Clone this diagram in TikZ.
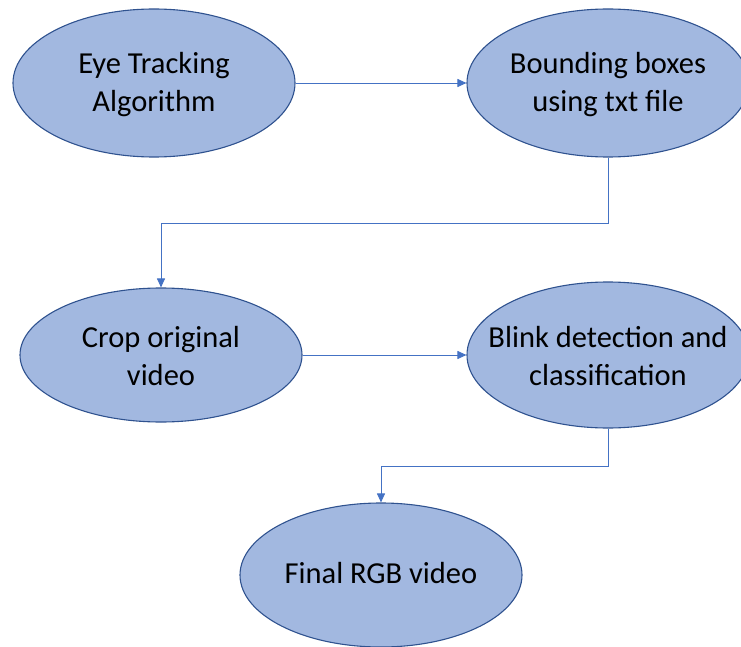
\documentclass[tikz,border=0pt]{standalone}
\usepackage{fontspec}
\setmainfont{Carlito}
\usetikzlibrary{shapes.geometric,arrows.meta}
\definecolor{stepfill}{HTML}{A2B8E0}
\definecolor{stepline}{HTML}{2F528F}
\definecolor{flowline}{HTML}{4472C4}
\tikzset{
  stepoval/.style={ellipse, fill=stepfill, draw=stepline, line width=1.1pt, inner sep=0pt},
  steptext/.style={align=center, font=\fontsize{30.5}{38}\selectfont, text=black, inner sep=0pt},
  flow/.style={draw=flowline, line width=0.9pt, -{Triangle[length=9pt,width=8pt]}}
}
\begin{document}
\begin{tikzpicture}[x=1pt,y=-1pt]
\useasboundingbox (0,0) rectangle (741,647);
\begin{scope}
\clip (0,0) rectangle (741,647);
\node[stepoval, minimum width=282pt, minimum height=148pt] (e1) at (154,83) {};
\node[stepoval, minimum width=282pt, minimum height=148pt] (e2) at (608,83) {};
\node[stepoval, minimum width=282pt, minimum height=134pt] (e3) at (161,355) {};
\node[stepoval, minimum width=282pt, minimum height=146pt] (e4) at (608,355) {};
\node[stepoval, minimum width=282pt, minimum height=144pt] (e5) at (381,575) {};
\end{scope}
\node[steptext] (t1) at ([yshift=-2pt]e1) {Eye Tracking\\Algorithm};
\node[steptext] (t2) at ([yshift=-2pt]e2) {Bounding boxes\\using txt file};
\node[steptext] (t3) at ([yshift=-1pt]e3) {Crop original\\video};
\node[steptext] (t4) at ([yshift=-1pt]e4) {Blink detection and\\classification};
\node[steptext] (t5) at ([yshift=2pt]e5) {Final RGB video};
\coordinate (k1) at (608,223);
\coordinate (k2) at (608,466);
\draw[flow] (e1.east) -- (e2.west);
\draw[flow] (e2.south) -- (k1) -| (e3.north);
\draw[flow] (e3.east) -- (e4.west);
\draw[flow] (e4.south) -- (k2) -| (e5.north);
\end{tikzpicture}
\end{document}
